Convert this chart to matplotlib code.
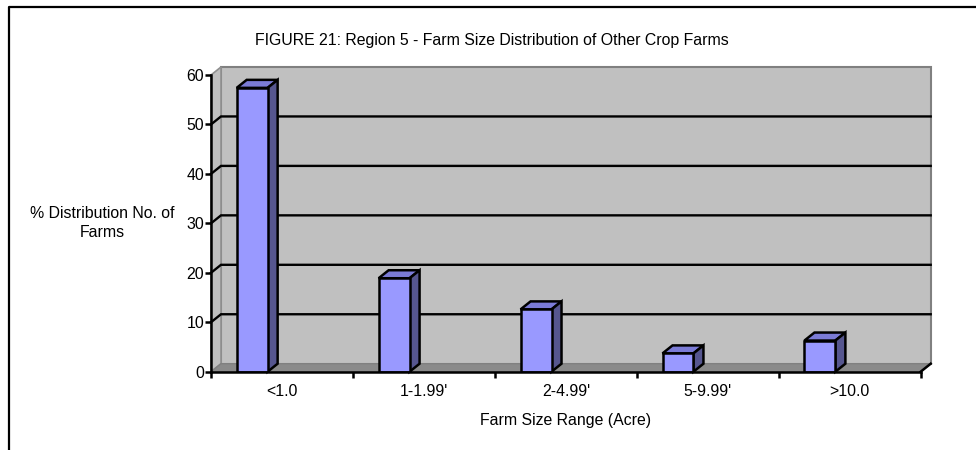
import matplotlib
matplotlib.use('Agg')
import matplotlib.pyplot as plt
from matplotlib.patches import Polygon
from matplotlib.lines import Line2D
from matplotlib.transforms import IdentityTransform

# ---- data ----
categories = ['<1.0', "1-1.99'", "2-4.99'", "5-9.99'", '>10.0']
values = [57.4, 18.9, 12.6, 3.7, 6.3]
y_ticks = [0, 10, 20, 30, 40, 50, 60]
title = 'FIGURE 21: Region 5 - Farm Size Distribution of Other Crop Farms'
x_label = 'Farm Size Range (Acre)'
y_label = '% Distribution No. of\nFarms'

plt.rcParams['font.family'] = ['Liberation Sans', 'DejaVu Sans']
FS = 11.4

W, H = 976, 450
fig = plt.figure(figsize=(W / 100, H / 100), dpi=100)
fig.patch.set_facecolor('white')

x0px, x1px, y0px, y1px = 211, 920.7, 371.7, 75
ax = fig.add_axes([x0px / W, 1 - y0px / H, (x1px - x0px) / W, (y0px - y1px) / H])
n = len(categories)
ax.set_xlim(0, n)
ax.set_ylim(0, 60)
ax.autoscale(False)
ax.patch.set_visible(False)
for s in ['top', 'right']:
    ax.spines[s].set_visible(False)
for s in ['left', 'bottom']:
    ax.spines[s].set_linewidth(1.8)
    ax.spines[s].set_zorder(5)

DX, DY = 10, 8  # 3D depth offset in pixels


def to_px(x, y, back=False):
    px, py = ax.transData.transform((x, y))
    if back:
        px += DX
        py += DY
    return (px, py)


def poly(pts, **kw):
    p = Polygon(pts, closed=True, transform=IdentityTransform(), clip_on=False, **kw)
    ax.add_patch(p)
    return p


def line(pts, **kw):
    xs = [p[0] for p in pts]
    ys = [p[1] for p in pts]
    l = Line2D(xs, ys, transform=IdentityTransform(), clip_on=False, **kw)
    ax.add_line(l)
    return l


ymax = y_ticks[-1]
# back wall
poly([to_px(0, 0, True), to_px(n, 0, True), to_px(n, ymax, True), to_px(0, ymax, True)],
     facecolor='#c0c0c0', edgecolor='#808080', lw=1.5, zorder=0.5)
# side wall
poly([to_px(0, 0), to_px(0, ymax), to_px(0, ymax, True), to_px(0, 0, True)],
     facecolor='#c0c0c0', edgecolor='#909090', lw=1.2, zorder=0.6)
# floor
poly([to_px(0, 0), to_px(n, 0), to_px(n, 0, True), to_px(0, 0, True)],
     facecolor='#8a8a8a', edgecolor='#808080', lw=1.0, zorder=0.7)
# gridlines
for v in y_ticks[1:-1]:
    line([to_px(0, v), to_px(0, v, True), to_px(n, v, True)], color='black', lw=1.7, zorder=1.0,
         solid_joinstyle='miter')
# right end of the floor front edge
line([to_px(n, 0), to_px(n, 0, True)], color='black', lw=1.8, zorder=5)

# bars
off, bw = 0.181, 0.218
xs = [i + off for i in range(n)]
ax.bar(xs, values, width=bw, align='edge', color='#9999ff', edgecolor='black', lw=1.8, zorder=3)
for x, v in zip(xs, values):
    poly([to_px(x, v), to_px(x + bw, v), to_px(x + bw, v, True), to_px(x, v, True)],
         facecolor='#7b7bd6', edgecolor='black', lw=1.8, zorder=2.9, joinstyle='miter')
    poly([to_px(x + bw, 0), to_px(x + bw, v), to_px(x + bw, v, True), to_px(x + bw, 0, True)],
         facecolor='#56568f', edgecolor='black', lw=1.8, zorder=2.9, joinstyle='miter')

# ticks
ax.set_yticks(y_ticks)
ax.set_yticklabels([str(t) for t in y_ticks])
ax.tick_params(axis='y', direction='out', length=4.5, width=1.8, labelsize=FS, pad=0.5)
ax.set_xticks(range(n + 1))
ax.set_xticklabels([])
ax.tick_params(axis='x', which='major', direction='out', length=4.5, width=1.8)
ax.set_xticks([i + 0.5 for i in range(n)], minor=True)
ax.set_xticklabels(categories, minor=True)
ax.tick_params(axis='x', which='minor', length=0, labelsize=FS, pad=9)

# texts
fig.text(492 / W, 1 - 41 / H, title, ha='center', va='center', fontsize=FS)
fig.text(566 / W, 1 - 421 / H, x_label, ha='center', va='center', fontsize=FS)
fig.text(102 / W, 1 - 223 / H, y_label, ha='center', va='center', fontsize=FS,
         multialignment='center', linespacing=1.3)

# outer frame (top and left edges visible)
fig.add_artist(Line2D([9 / W, 9 / W, 1.0], [0.0, 1 - 7 / H, 1 - 7 / H],
                      transform=fig.transFigure, color='black', lw=1.6))

fig.savefig('out.png', dpi=100)
